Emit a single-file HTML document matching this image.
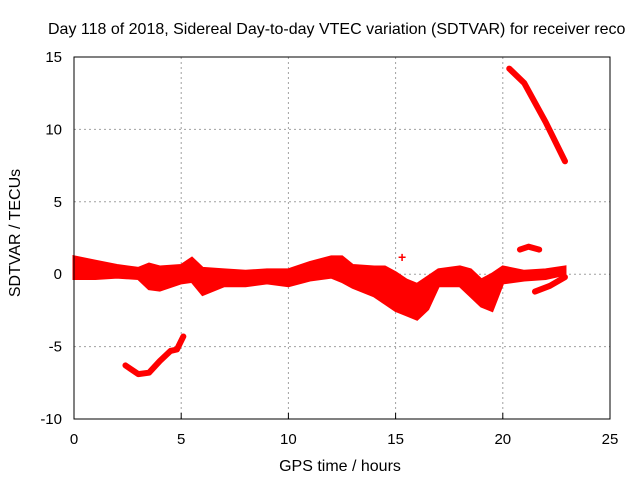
<!DOCTYPE html>
<html><head><meta charset="utf-8"><style>
body{margin:0;background:#fff;width:640px;height:480px;overflow:hidden}
svg{display:block;font-family:"Liberation Sans",sans-serif}
</style></head><body>
<svg id="c" width="640" height="480">
<text x="48" y="34" font-size="16">Day 118 of 2018, Sidereal Day-to-day VTEC variation (SDTVAR) for receiver reco</text>
<g id="grid"></g><g id="data"></g><g id="axes"></g>
<text x="340" y="471" font-size="16" text-anchor="middle">GPS time / hours</text>
<text transform="translate(20,233) rotate(-90)" font-size="16" text-anchor="middle">SDTVAR / TECUs</text>
</svg>
<script>
const xTicks=[0,5,10,15,20,25];
const yTicks=[-10,-5,0,5,10,15];
const bandT=[0,1,2,3,3.5,4,5,5.5,6,7,8,9,10,11,12,12.5,13,14,14.5,15,15.5,16,16.5,17,18,18.5,19,19.5,20,21,22,22.9];
const bandUpper=[1.2,0.9,0.6,0.4,0.7,0.5,0.6,1.1,0.4,0.3,0.2,0.3,0.3,0.8,1.2,1.2,0.6,0.5,0.5,0.1,-0.4,-0.7,-0.2,0.3,0.5,0.3,-0.4,0,0.5,0.2,0.3,0.5];
const bandLower=[-0.3,-0.3,-0.2,-0.3,-1,-1.1,-0.6,-0.5,-1.4,-0.8,-0.8,-0.6,-0.8,-0.4,-0.2,-0.5,-0.9,-1.5,-2,-2.5,-2.8,-3.1,-2.4,-0.8,-0.8,-1.5,-2.2,-2.5,-0.6,-0.4,-0.3,0];
const lowT=[2.4,3,3.5,4,4.5,4.8,5.1];
const lowV=[-6.3,-6.9,-6.8,-6,-5.3,-5.2,-4.3];
const highT=[20.3,21,22,22.9];
const highV=[14.2,13.2,10.5,7.8];
const sideT=[21.5,22.2,22.9];
const sideV=[-1.2,-0.8,-0.2];
const blipT=[20.8,21.2,21.7];
const blipV=[1.7,1.9,1.7];
const X=t=>74+t*536/25, Y=v=>274.2-v*14.48;
const NS="http://www.w3.org/2000/svg";
function mk(tag,parent,attrs){const e=document.createElementNS(NS,tag);for(const k in attrs)e.setAttribute(k,attrs[k]);parent.appendChild(e);return e;}
const g=document.getElementById('grid'),d=document.getElementById('data'),a=document.getElementById('axes');
xTicks.forEach(t=>{
 if(t>0&&t<25){const l=mk('line',g,{x1:X(t),x2:X(t),y1:57,y2:419,stroke:'#a0a0a0','stroke-dasharray':'2,3'});
 
 }
 const tk=mk('line',a,{x1:X(t),x2:X(t),y1:419,y2:413,stroke:'#000'});
 
 
 const tx=mk('text',a,{x:X(t),y:444,'font-size':15,'text-anchor':'middle'});tx.textContent=t;
 
 
});
yTicks.forEach(v=>{
 if(v>-10&&v<15){const l=mk('line',g,{x1:74,x2:610,y1:Y(v),y2:Y(v),stroke:'#a0a0a0','stroke-dasharray':'2,3'});
 
 }
 const tx=mk('text',a,{x:62,y:Y(v)+5,'font-size':15,'text-anchor':'end'});tx.textContent=v;
 
 
});
const fr=mk('rect',a,{x:74,y:57,width:536,height:362,fill:'none',stroke:'#000'});


let pts=bandT.map((t,i)=>X(t)+','+Y(bandUpper[i]));
for(let i=bandT.length-1;i>=0;i--)pts.push(X(bandT[i])+','+Y(bandLower[i]));
const band=mk('polygon',d,{points:pts.join(' '),fill:'#ff0000',stroke:'#ff0000','stroke-width':3});


[[lowT,lowV,'low-series'],[highT,highV,'high-series'],[sideT,sideV,'side-series'],[blipT,blipV,'blip-series']].forEach(([T,V,n])=>{
 const p=mk('polyline',d,{points:T.map((t,i)=>X(t)+','+Y(V[i])).join(' '),fill:'none',stroke:'#ff0000','stroke-width':6,'stroke-linejoin':'round','stroke-linecap':'round'});
 
 
});
const pt=mk('text',d,{x:X(15.3),y:Y(1.2)+5,'font-size':14,'text-anchor':'middle',fill:'#ff0000','font-weight':'bold'});pt.textContent='+';


</script>
</body></html>
